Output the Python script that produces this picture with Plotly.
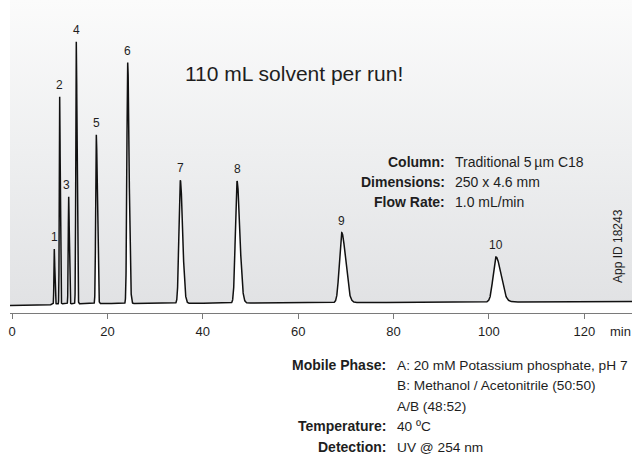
import math
import numpy as np
import plotly.graph_objects as go

# ---------------- data ----------------
peak_ids = ["1", "2", "3", "4", "5", "6", "7", "8", "9", "10"]
retention_min = [8.87, 10.0, 11.89, 13.48, 17.68, 24.26, 35.29, 47.18, 69.13, 101.49]
peak_height = [55, 207, 107, 262, 169, 241, 123, 122, 70, 45]
peak_sigma_min = [0.075, 0.08, 0.09, 0.10, 0.13, 0.17, 0.28, 0.34, 0.48, 0.60]
tailing_factor = [1.4, 1.4, 1.4, 1.5, 1.6, 1.7, 1.7, 1.7, 1.7, 1.7]
solvent_front_min = 8.2
solvent_front_step = 1.5
baseline_drift_per_min = 0.02

x_tick_vals = [0, 20, 40, 60, 80, 100, 120]
x_tick_text = ["0", "20", "40", "60", "80", "100", "120"]

info_top_labels = ["Column:", "Dimensions:", "Flow Rate:"]
info_top_values = ["Traditional 5\u2009\u00b5m C18", "250 x 4.6 mm", "1.0 mL/min"]
info_bottom_labels = ["Mobile Phase:", "", "", "Temperature:", "Detection:"]
info_bottom_values = ["A: 20 mM Potassium phosphate, pH 7",
                      "B: Methanol / Acetonitrile (50:50)",
                      "A/B (48:52)",
                      "40 \u00baC",
                      "UV @ 254 nm"]
headline = "110 mL solvent per run!"
app_id = "App ID 18243"

# ---------------- build detector trace from peak table ----------------
X_MIN, X_MAX = -0.42, 130.01
Y_MIN, Y_MAX = -7.5, 305.5
t = np.arange(X_MIN, X_MAX + 0.005, 0.01)
signal = solvent_front_step / (1.0 + np.exp(-(t - solvent_front_min) / 0.25))
signal = signal + baseline_drift_per_min * np.clip(t, 0, None)
for tr, h, s, tf in zip(retention_min, peak_height, peak_sigma_min, tailing_factor):
    sig = np.where(t < tr, s, s * tf)
    signal = signal + h * np.exp(-0.5 * ((t - tr) / sig) ** 2)

FONT = "Liberation Sans, Arial, sans-serif"
TXT = "#1e1e1e"

fig = go.Figure()
# upper edge for the background fill
fig.add_trace(go.Scatter(x=[X_MIN, X_MAX], y=[Y_MAX + 5, Y_MAX + 5], mode="lines",
                         line=dict(width=0, color="rgba(0,0,0,0)"), hoverinfo="skip"))
fig.add_trace(go.Scatter(
    x=t, y=signal, mode="lines",
    line=dict(color="#111111", width=1.5),
    fill="tonexty",
    fillgradient=dict(type="vertical", start=0, stop=Y_MAX,
                      colorscale=[[0, "#e1e2e4"], [0.5, "#eeeff0"], [1, "#fbfbfb"]]),
    hoverinfo="skip"))

W, H = 632, 454
ML, MR, MT, MB = 10, 0, 0, 141
PW, PH = W - ML - MR, H - MT - MB


def pxp(xpx, ypx):
    return (xpx - ML) / PW, (H - MB - ypx) / PH


ann = []
for i, (pid, tr) in enumerate(zip(peak_ids, retention_min)):
    idx = int(np.argmin(np.abs(t - tr)))
    ann.append(dict(x=tr, y=float(signal[idx]), xref="x", yref="y", text=pid,
                    showarrow=False, yanchor="middle", yshift=12,
                    xshift=-2 if pid == "3" else 0,
                    font=dict(family=FONT, size=12, color=TXT)))

hx, hy = pxp(183, 73)
ann.append(dict(x=hx, y=hy, xref="paper", yref="paper", text=headline, showarrow=False,
                xanchor="left", yanchor="middle", font=dict(family=FONT, size=21, color=TXT)))

for k, (lab, val) in enumerate(zip(info_top_labels, info_top_values)):
    ly = 161.7 + 20 * k
    x1, y1 = pxp(447, ly)
    x2, _ = pxp(453, ly)
    ann.append(dict(x=x1, y=y1, xref="paper", yref="paper", text="<b>" + lab + "</b>",
                    showarrow=False, xanchor="right", yanchor="middle",
                    font=dict(family=FONT, size=14, color=TXT)))
    ann.append(dict(x=x2, y=y1, xref="paper", yref="paper", text=val,
                    showarrow=False, xanchor="left", yanchor="middle",
                    font=dict(family=FONT, size=14, color=TXT)))

for k, (lab, val) in enumerate(zip(info_bottom_labels, info_bottom_values)):
    ly = 365 + 20.5 * k
    x1, y1 = pxp(388, ly)
    x2, _ = pxp(395, ly)
    if lab:
        ann.append(dict(x=x1, y=y1, xref="paper", yref="paper", text="<b>" + lab + "</b>",
                        showarrow=False, xanchor="right", yanchor="middle",
                        font=dict(family=FONT, size=14, color=TXT)))
    ann.append(dict(x=x2, y=y1, xref="paper", yref="paper", text=val,
                    showarrow=False, xanchor="left", yanchor="middle",
                    font=dict(family=FONT, size=13.7, color=TXT)))

ax_, ay_ = pxp(618, 246)
ann.append(dict(x=ax_, y=ay_, xref="paper", yref="paper", text=app_id, textangle=-90,
                showarrow=False, xanchor="center", yanchor="middle",
                font=dict(family=FONT, size=12, color=TXT)))

mx, my = pxp(620, 331)
ann.append(dict(x=mx, y=my, xref="paper", yref="paper", text="min", showarrow=False,
                xanchor="center", yanchor="middle", font=dict(family=FONT, size=13, color=TXT)))

fig.update_layout(
    width=W, height=H, margin=dict(l=ML, r=MR, t=MT, b=MB),
    paper_bgcolor="white", plot_bgcolor="white", showlegend=False,
    annotations=ann,
    xaxis=dict(range=[X_MIN, X_MAX], tickvals=x_tick_vals, ticktext=x_tick_text,
               ticks="outside", ticklen=5, tickwidth=1, tickcolor="#7a7a7a",
               showline=True, linecolor="#7a7a7a", linewidth=1.2,
               showgrid=False, zeroline=False, ticklabelstandoff=1,
               tickfont=dict(family=FONT, size=13, color=TXT)),
    yaxis=dict(range=[Y_MIN, Y_MAX], visible=False, showgrid=False, zeroline=False),
)

fig.write_html("out.html")
